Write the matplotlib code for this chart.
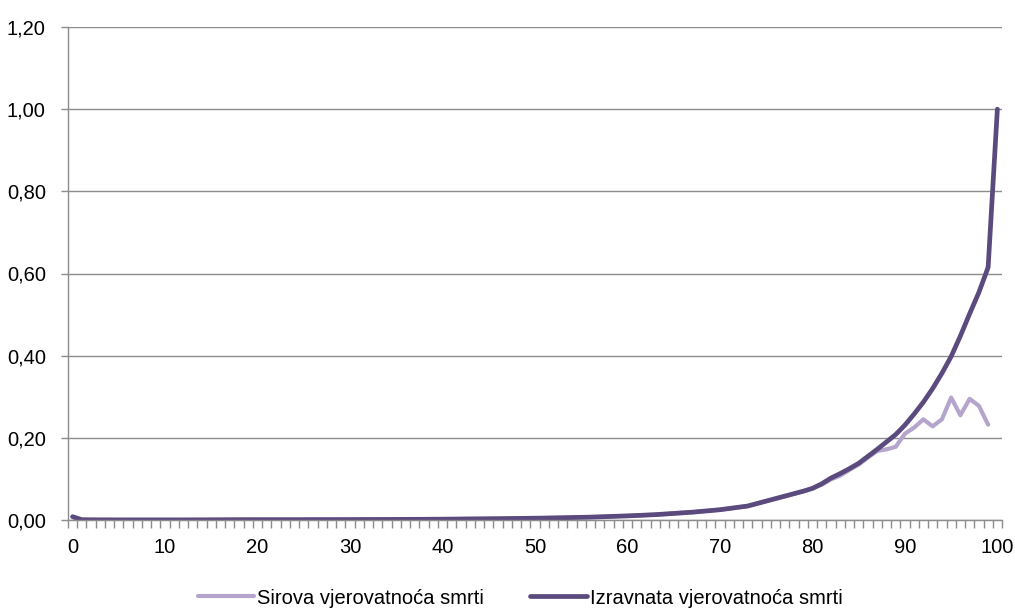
import matplotlib
matplotlib.use("Agg")
import matplotlib.pyplot as plt
import numpy as np
from matplotlib.ticker import FixedLocator, FuncFormatter

plt.rcParams['font.family'] = ['Liberation Sans', 'DejaVu Sans']

ages = list(range(0, 101))

# smoothed probability of death (Izravnata)
izravnata = [0.008, 0.0006, 0.0004, 0.0003, 0.0003, 0.0002, 0.0002, 0.0002, 0.0002, 0.0002,
             0.0002, 0.0002, 0.0002, 0.0003, 0.0003, 0.0004, 0.0005, 0.0006, 0.0007, 0.0007,
             0.0008, 0.0008, 0.0008, 0.0008, 0.0008, 0.0008, 0.0009, 0.0009, 0.0009, 0.0010,
             0.0010, 0.0011, 0.0012, 0.0012, 0.0013, 0.0014, 0.0015, 0.0016, 0.0017, 0.0019,
             0.0020, 0.0022, 0.0024, 0.0026, 0.0028, 0.0030, 0.0032, 0.0035, 0.0038, 0.0041,
             0.0044, 0.0047, 0.0051, 0.0055, 0.0060, 0.0065, 0.0070, 0.0077, 0.0085, 0.0093,
             0.0100, 0.0110, 0.0120, 0.0130, 0.0145, 0.0160, 0.0175, 0.0190, 0.0210, 0.0230,
             0.0250, 0.0280, 0.0310, 0.0340, 0.0400, 0.0460, 0.0520, 0.0580, 0.0640, 0.0700,
             0.0770, 0.0880, 0.1020, 0.1130, 0.1250, 0.1380, 0.1550, 0.1720, 0.1900, 0.2080,
             0.2310, 0.2580, 0.2870, 0.3200, 0.3570, 0.3980, 0.4480, 0.5020, 0.5540, 0.6150,
             1.0000]

# raw probability of death (Sirova), ends at 99
sirova = list(izravnata[:81]) + [0.0860, 0.0990, 0.1080, 0.1220, 0.1350, 0.1520, 0.1680, 0.1720,
                                 0.1780, 0.2100, 0.2250, 0.2450, 0.2280, 0.2450, 0.2980, 0.2550,
                                 0.2950, 0.2780, 0.2320, np.nan]

light = '#b5a5cc'
dark = '#5b4a7e'

fig = plt.figure(figsize=(10.15, 6.12), dpi=100)
ax = fig.add_axes([68/1015, 1-520/612, 934/1015, 493/612])

ax.plot(ages, sirova, color=light, lw=3.0, label='Sirova vjerovatnoća smrti',
        solid_joinstyle='round', solid_capstyle='round')
ax.plot(ages, izravnata, color=dark, lw=3.4, label='Izravnata vjerovatnoća smrti',
        solid_joinstyle='round', solid_capstyle='round')

ax.set_xlim(-0.5, 100.5)
ax.set_ylim(0, 1.2)

ax.set_xticks(range(0, 101, 10))
ax.xaxis.set_minor_locator(FixedLocator(np.arange(-0.5, 101, 1)))
ax.tick_params(axis='x', which='major', length=0, pad=13, labelsize=14.5)
ax.tick_params(axis='x', which='minor', length=6, width=1, color='#8c8c8c')

ax.set_yticks(np.arange(0, 1.21, 0.2))
ax.yaxis.set_major_formatter(FuncFormatter(lambda v, p: ('%.2f' % v).replace('.', ',')))
ax.tick_params(axis='y', length=5, width=1, color='#8c8c8c', pad=11, labelsize=14.5)

ax.grid(axis='y', color='#8c8c8c', lw=1)
ax.set_axisbelow(True)
for s in ['top', 'right']:
    ax.spines[s].set_visible(False)
for s in ['left', 'bottom']:
    ax.spines[s].set_color('#8c8c8c')
    ax.spines[s].set_linewidth(1)

fig.legend(loc='center', bbox_to_anchor=(520/1015, 1-598/612), ncol=2, frameon=False,
           fontsize=14.5, handlelength=2.8, handletextpad=0.15, columnspacing=2.3)

fig.savefig('out.png', dpi=100)
